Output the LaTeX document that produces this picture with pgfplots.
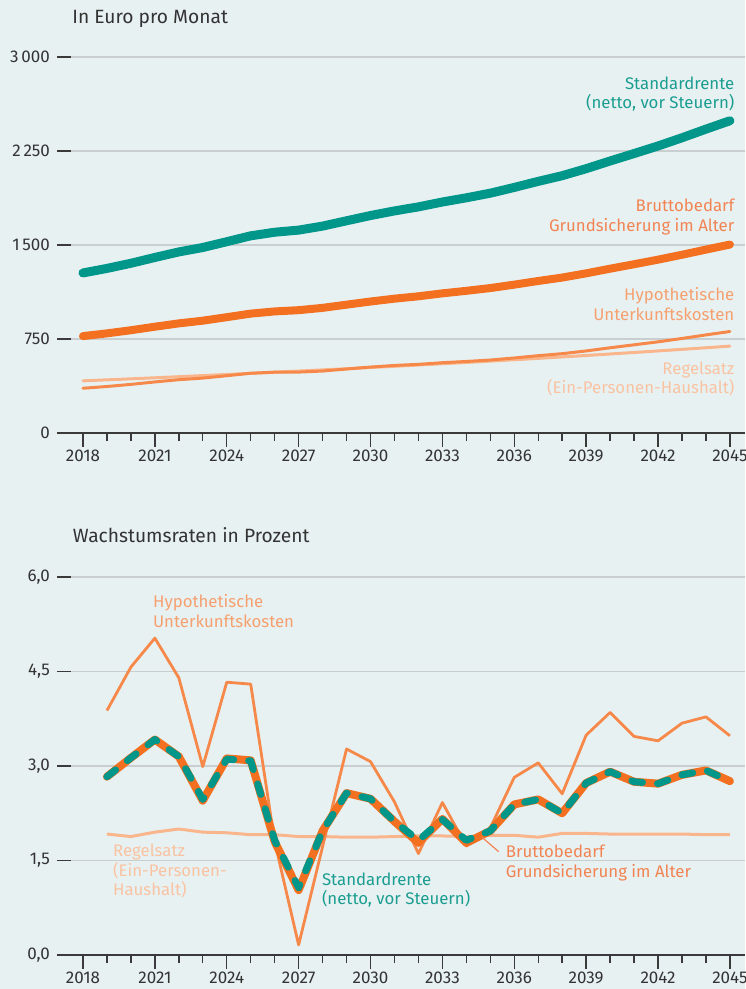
\documentclass[border=0pt]{standalone}
\usepackage{fontspec}
\setmainfont{Fira Sans}
\usepackage{pgfplots}
\usepackage{pgfplotstable}
\pgfplotsset{compat=1.18}
\definecolor{bgc}{HTML}{E8F1F2}
\definecolor{teal}{HTML}{00968A}
\definecolor{oth}{HTML}{F37021}
\definecolor{otn}{HTML}{F6894A}
\definecolor{reg}{HTML}{F9B68C}
\definecolor{tealtxt}{HTML}{1B9E91}
\definecolor{brtxt}{HTML}{F28453}
\definecolor{hytxt}{HTML}{F6A06F}
\definecolor{regtxt}{HTML}{F9C3A2}
\definecolor{gridc}{HTML}{C9CFD0}
\definecolor{axc}{HTML}{3A3A3A}
\definecolor{txt}{HTML}{333333}

\pgfplotstableread{
year std brutto unter regel
2018 1277.0 773.0 357.0 416.0
2019 1313.1 794.9 370.9 424.0
2020 1354.2 819.9 387.9 432.0
2021 1400.5 847.9 407.4 440.5
2022 1444.6 874.6 425.3 449.3
2023 1480.0 896.1 438.0 458.1
2024 1526.2 924.0 457.0 467.0
2025 1573.2 952.5 476.6 475.9
2026 1601.8 970.0 485.2 485.0
2027 1618.9 979.9 485.9 494.1
2028 1650.8 998.4 494.3 503.4
2029 1693.2 1023.9 510.5 512.8
2030 1735.1 1049.1 526.1 522.4
2031 1771.9 1071.8 539.0 532.2
2032 1804.1 1090.7 547.7 542.3
2033 1843.0 1114.1 560.9 552.5
2034 1876.5 1134.3 570.7 562.9
2035 1913.4 1156.4 582.2 573.6
2036 1959.3 1183.7 598.6 584.5
2037 2007.7 1212.9 616.9 595.4
2038 2052.9 1240.1 632.7 606.8
2039 2108.9 1273.8 654.7 618.5
2040 2170.3 1310.9 679.9 630.4
2041 2229.6 1346.5 703.5 642.4
2042 2290.0 1382.9 727.4 654.8
2043 2355.5 1422.1 754.2 667.3
2044 2424.4 1463.3 782.6 680.1
2045 2491.3 1503.5 809.8 693.1
}\levels

\pgfplotstableread{
year std brutto unter regel
2019 2.83 2.83 3.88 1.92
2020 3.13 3.13 4.57 1.88
2021 3.42 3.42 5.03 1.95
2022 3.15 3.15 4.40 2.00
2023 2.47 2.45 2.99 1.95
2024 3.11 3.12 4.33 1.94
2025 3.08 3.09 4.30 1.91
2026 1.82 1.80 1.80 1.91
2027 1.07 1.03 0.16 1.88
2028 1.97 1.97 1.72 1.88
2029 2.57 2.57 3.27 1.87
2030 2.48 2.48 3.07 1.87
2031 2.12 2.12 2.43 1.88
2032 1.82 1.78 1.61 1.89
2033 2.15 2.16 2.42 1.89
2034 1.82 1.78 1.73 1.88
2035 1.97 1.97 2.02 1.90
2036 2.39 2.39 2.82 1.90
2037 2.47 2.47 3.05 1.87
2038 2.25 2.25 2.56 1.93
2039 2.73 2.73 3.49 1.93
2040 2.91 2.91 3.85 1.92
2041 2.75 2.75 3.47 1.92
2042 2.72 2.72 3.40 1.92
2043 2.86 2.86 3.68 1.92
2044 2.93 2.93 3.78 1.91
2045 2.76 2.76 3.48 1.91
}\rates

\pgfplotsset{
  base/.style={
    scale only axis, width=337pt, clip=false,
    xmin=2017.5, xmax=2045.63,
    axis line style={draw=none},
    tick align=outside, xtick pos=bottom, ytick pos=left,
    xtick={2018,2021,2024,2027,2030,2033,2036,2039,2042,2045},
    xticklabels={2018,2021,2024,2027,2030,2033,2036,2039,2042,2045},
    minor xtick={2019,2020,2022,2023,2025,2026,2028,2029,2031,2032,2034,2035,2037,2038,2040,2041,2043,2044},
    major tick length=7pt, minor tick length=4pt,
    tick style={draw=axc, line width=0.7pt},
    ymajorgrids, grid style={draw=gridc, line width=0.7pt},
    tick label style={font=\fontsize{8.5}{9.5}\selectfont, text=txt},
    xticklabel style={yshift=2.2pt},
    /pgf/number format/assume math mode=true,
  },
}
\tikzset{ann/.style={inner sep=0pt, font=\fontsize{8.4}{9.8}\selectfont},
  ttl/.style={anchor=base west, inner sep=0pt, text=txt, font=\fontsize{9.6}{10}\selectfont}}

\begin{document}
\begin{tikzpicture}
\useasboundingbox (-35.5pt,-278pt) rectangle (337pt,216.5pt);
\fill[bgc] (-35.5pt,-278pt) rectangle (337pt,216.5pt);

\begin{axis}[base, at={(0,0)}, anchor=south west, height=188pt,
  ymin=0, ymax=3000, ytick={0,750,1500,2250,3000},
  yticklabels={0,750,1\,500,2\,250,3\,000}]
\addplot[reg, line width=1.5pt, line cap=round, line join=round] table[x=year,y=regel]{\levels};
\addplot[otn, line width=1.5pt, line cap=round, line join=round] table[x=year,y=unter]{\levels};
\addplot[oth, line width=4pt, line cap=round, line join=round] table[x=year,y=brutto]{\levels};
\addplot[teal, line width=4.5pt, line cap=round, line join=round] table[x=year,y=std]{\levels};
\draw[axc, line width=0.7pt] ([xshift=-7pt]rel axis cs:0,0) -- (rel axis cs:1,0);
\node[ttl] at ([xshift=0.5pt,yshift=16.5pt]rel axis cs:0,1) {In Euro pro Monat};
\node[ann, anchor=east, align=right, text=tealtxt] at (axis cs:2045.2,2705) {Standardrente\\(netto, vor Steuern)};
\node[ann, anchor=east, align=right, text=brtxt] at (axis cs:2045.2,1723) {Bruttobedarf\\Grundsicherung im Alter};
\node[ann, anchor=east, align=right, text=hytxt] at (axis cs:2045.2,1029) {Hypothetische\\Unterkunftskosten};
\node[ann, anchor=east, align=right, text=regtxt] at (axis cs:2045.2,431) {Regelsatz\\(Ein-Personen-Haushalt)};
\end{axis}

\begin{axis}[base, at={(0,-261pt)}, anchor=south west, height=189pt,
  ymin=0, ymax=6, ytick={0,1.5,3,4.5,6},
  yticklabels={{0,0},{1,5},{3,0},{4,5},{6,0}}]
\addplot[reg, line width=1.5pt, line join=round] table[x=year,y=regel]{\rates};
\addplot[otn, line width=1.4pt, line join=round] table[x=year,y=unter]{\rates};
\addplot[oth, line width=4pt, line join=round, line cap=round] table[x=year,y=brutto]{\rates};
\addplot[teal, line width=3.5pt, line join=round, line cap=round, dash pattern=on 5.5pt off 7.5pt] table[x=year,y=std]{\rates};
\draw[axc, line width=0.7pt] ([xshift=-7pt]rel axis cs:0,0) -- (rel axis cs:1,0);
\draw[brtxt, line width=0.6pt] (axis cs:2034.65,1.87) -- (axis cs:2035.35,1.64);
\node[ttl] at ([xshift=0.8pt,yshift=17.5pt]rel axis cs:0,1) {Wachstumsraten in Prozent};
\node[ann, anchor=west, align=left, text=hytxt] at (axis cs:2020.91,5.46) {Hypothetische\\Unterkunftskosten};
\node[ann, anchor=west, align=left, text=regtxt] at (axis cs:2019.24,1.33) {Regelsatz\\(Ein-Personen-\\Haushalt)};
\node[ann, anchor=west, align=left, text=tealtxt] at (axis cs:2027.96,1.03) {Standardrente\\(netto, vor Steuern)};
\node[ann, anchor=west, align=left, text=brtxt] at (axis cs:2035.63,1.46) {Bruttobedarf\\Grundsicherung im Alter};
\end{axis}
\end{tikzpicture}
\end{document}
